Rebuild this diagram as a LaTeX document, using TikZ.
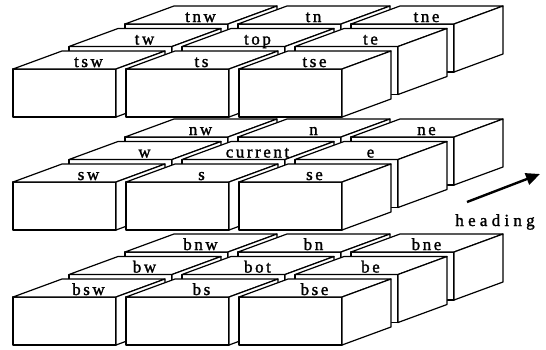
\documentclass[tikz,border=0pt]{standalone}
\usepackage{fontspec}
\setmainfont{Liberation Serif}
\usetikzlibrary{arrows.meta}

\begin{document}
\begin{tikzpicture}[x=1pt,y=-1pt, line width=1.2pt, line join=round,
    cell/.style={anchor=base, inner sep=0pt,
      font=\fontsize{17}{17}\selectfont\addfontfeature{LetterSpace=15,FakeBold=1.5}}]
  % canvas 546 x 349, y runs downward
  \useasboundingbox (0,0) rectangle (546,349);

  % ── E1 three layers of 3x3 blocks ──
  % front face 103 x 48, depth (49,-18); columns +113, rows (56,-22.5)
  \foreach \ly/\names in {69/{tnw,tn,tne,tw,top,te,tsw,ts,tse},
                          182/{nw,n,ne,w,current,e,sw,s,se},
                          297/{bnw,bn,bne,bw,bot,be,bsw,bs,bse}}{
    \foreach \name [count=\i from 0] in \names {
      \pgfmathtruncatemacro\r{2-floor(\i/3)}
      \pgfmathtruncatemacro\c{mod(\i,3)}
      \pgfmathsetmacro\bx{13+113*\c+56*\r}
      \pgfmathsetmacro\by{\ly-22.5*\r}
      \filldraw[fill=white] (\bx,\by) rectangle ++(103,48);
      \filldraw[fill=white] (\bx,\by) -- ++(49,-18) -- ++(103,0) -- ++(-49,18) -- cycle;
      \filldraw[fill=white] (\bx+103,\by) -- ++(49,-18) -- ++(0,48) -- ++(-49,18) -- cycle;
      % label sits on the top face, just behind the front edge
      \node[cell] (\name) at (\bx+51.5+24,\by-2) {\name};
    }
  }

  % ── E2 heading arrow ──
  \coordinate (htail) at (467,202);
  \coordinate (htip) at (540,174);
  \draw[-{Triangle[length=14pt,width=12pt]}, line width=2.4pt] (htail) -- (htip);
  \node[cell, font=\fontsize{17}{17}\selectfont\addfontfeature{LetterSpace=25,FakeBold=1.5}]
    (heading) at (495,226) {heading};
\end{tikzpicture}
\end{document}
